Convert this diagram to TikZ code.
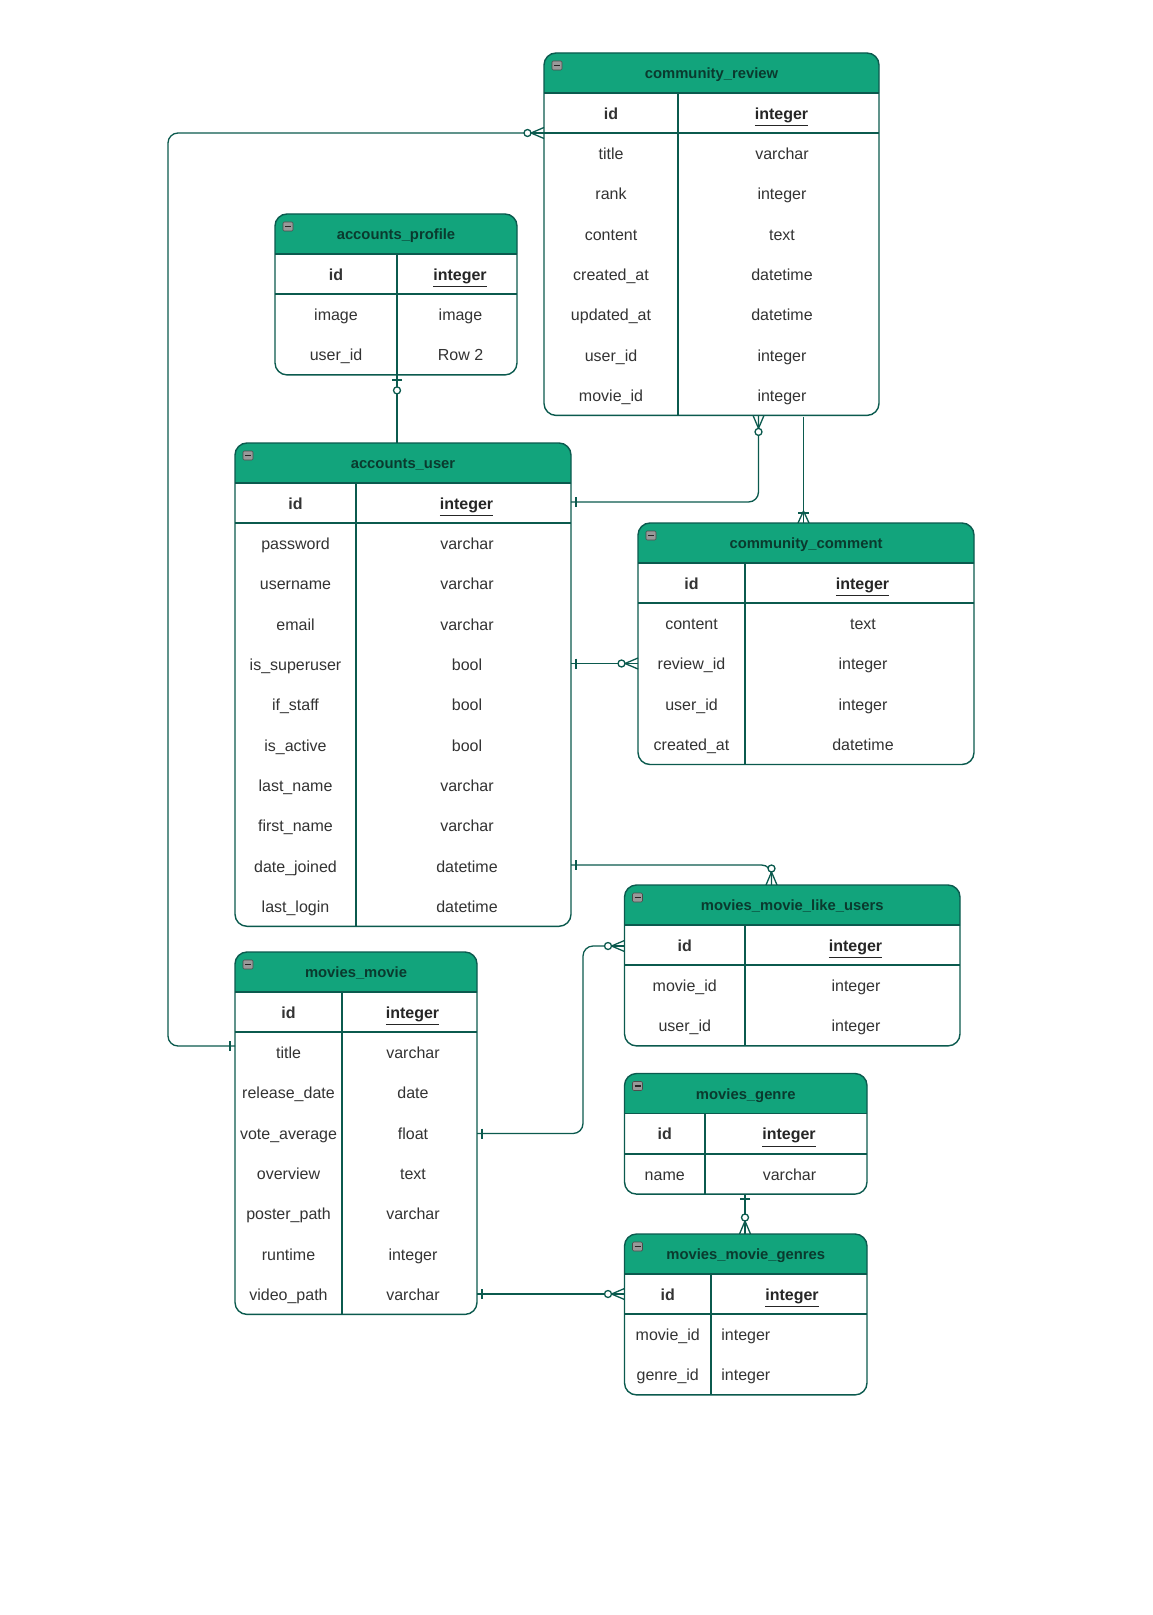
\documentclass[tikz,border=0pt]{standalone}
\usepackage{fontspec}
\setmainfont{Liberation Sans}
\usetikzlibrary{calc}
\definecolor{ln}{HTML}{0B5A4E}
\definecolor{hd}{HTML}{12A47C}
\definecolor{tt}{HTML}{0A3A2E}
\definecolor{tx}{HTML}{333333}
\newif\iftleft
\tikzset{
  tblbox/.style={inner sep=0pt, outer sep=0pt, draw=none},
  txt/.style={font=\fontsize{8}{9.6}\selectfont, text=tx, inner sep=0pt, text height=5.8pt, text depth=1.6pt},
  ttl/.style={font=\fontsize{7.4}{9}\selectfont\bfseries, text=tt, inner sep=0pt, text height=5.4pt, text depth=1.5pt},
  border/.style={draw=ln, line width=0.7pt},
  sep/.style={draw=ln, line width=0.9pt},
  conn/.style={draw=ln, line width=0.65pt, rounded corners=5pt},
  mk/.style={draw=ln, line width=0.65pt},
  erone/.pic={\draw[mk] (5,-5) -- (5,5);},
  erzeroone/.pic={\draw[mk] (5,-5) -- (5,5); \draw[mk, fill=white] (15.5,0) circle (3.5);},
  erzeromany/.pic={\draw[mk] (0,-5.5) -- (13,0) -- (0,5.5); \draw[mk] (0,0) -- (13,0); \draw[mk, fill=white] (16.5,0) circle (3.5);},
  eronemany/.pic={\draw[mk] (0,-5.5) -- (12,0) -- (0,5.5); \draw[mk] (0,0) -- (12,0); \draw[mk] (10,-5.5) -- (10,5.5);}
}
\newcommand\ulint{\underline{integer}}
% #1 name #2 left #3 top #4 right #5 divider #6 rows #7 title #8 rows
\newcommand\ertbl[8]{%
  \pgfmathsetmacro\tw{#4-#2}%
  \pgfmathsetmacro\th{40+#6*40.3}%
  \node[tblbox, minimum width=\tw*0.5pt, minimum height=\th*0.5pt, anchor=north west] (#1) at (#2,#3) {};
  \begin{scope}
    \clip (#2,#3) rectangle (#4,{#3+40});
    \fill[hd, rounded corners=6pt] (#2,#3) rectangle (#4,{#3+\th});
  \end{scope}
  \draw[border, rounded corners=6pt] (#1.north west) rectangle (#1.south east);
  \draw[sep] (#2,{#3+40}) -- (#4,{#3+40});
  \draw[sep] (#2,{#3+80.3}) -- (#4,{#3+80.3});
  \draw[draw=ln, line width=0.6pt] (#5,{#3+40}) -- (#5,{#3+\th});
  \draw[draw=black!70, fill=black!40, line width=0.3pt, rounded corners=0.6pt] ({#2+8},{#3+8}) rectangle ({#2+18},{#3+17});
  \draw[black!85, line width=0.6pt] ({#2+10},{#3+12.5}) -- ({#2+16},{#3+12.5});
  \node[ttl] at ({(#2+#4)/2},{#3+22}) {#7};
  \node[txt, font=\fontsize{8}{9.6}\selectfont\bfseries] at ({(#2+#5)/2},{#3+62}) {id};
  \node[txt, font=\fontsize{8}{9.6}\selectfont\bfseries, text=black!85] at ({(#5+#4)/2+3},{#3+62}) {\ulint};
  \foreach \a/\b [count=\i] in {#8} {
    \node[txt] at ({(#2+#5)/2},{#3+42+(\i+0.5)*40.3}) {\a};
    \iftleft
      \node[txt, anchor=west] at ({#5+10},{#3+42+(\i+0.5)*40.3}) {\b};
    \else
      \node[txt] at ({(#5+#4)/2+3.5},{#3+42+(\i+0.5)*40.3}) {\b};
    \fi
  }
}
\begin{document}
\begin{tikzpicture}[x=0.5pt, y=-0.5pt]
\fill[white] (0,0) rectangle (1152,1615);
\useasboundingbox (0,0) rectangle (1152,1615);

\ertbl{cr}{544}{53}{879}{678}{8}{community\_review}{title/varchar, rank/integer, content/text, created\_at/datetime, updated\_at/datetime, user\_id/integer, movie\_id/integer}
\ertbl{ap}{275}{214}{517}{397}{3}{accounts\_profile}{image/image, user\_id/Row 2}
\ertbl{au}{235}{443}{571}{356}{11}{accounts\_user}{password/varchar, username/varchar, email/varchar, is\_superuser/bool, if\_staff/bool, is\_active/bool, last\_name/varchar, first\_name/varchar, date\_joined/datetime, last\_login/datetime}
\ertbl{cc}{638}{523}{974}{745}{5}{community\_comment}{content/text, review\_id/integer, user\_id/integer, created\_at/datetime}
\ertbl{ml}{624.5}{885}{960}{745}{3}{movies\_movie\_like\_users}{movie\_id/integer, user\_id/integer}
\ertbl{mm}{235}{952}{477}{342}{8}{movies\_movie}{title/varchar, release\_date/date, vote\_average/float, overview/text, poster\_path/varchar, runtime/integer, video\_path/varchar}
\ertbl{mg}{624.5}{1073.5}{867}{705}{2}{movies\_genre}{name/varchar}
\tlefttrue
\ertbl{mmg}{624.5}{1234}{867}{711}{3}{movies\_movie\_genres}{movie\_id/integer, genre\_id/integer}
\tleftfalse

% connectors
\coordinate (c1) at ($(cr.north west)+(0,80)$);
\coordinate (c1e) at ($(mm.north west)+(0,94)$);
\coordinate (c2) at ($(ap.south west)+(122,0)$);
\coordinate (c3) at ($(cr.south west)+(214.5,0)$);
\coordinate (c3e) at ($(au.north east)+(0,59)$);
\coordinate (c4) at ($(cr.south west)+(259.5,0)$);
\coordinate (c5) at ($(au.north east)+(0,220.5)$);
\coordinate (c6) at ($(au.north east)+(0,422)$);
\coordinate (c6e) at ($(ml.north west)+(147,0)$);
\coordinate (c7) at ($(mm.north east)+(0,181.5)$);
\coordinate (c7e) at ($(ml.north west)+(0,61)$);
\coordinate (c8) at ($(mm.north east)+(0,342)$);
\coordinate (c9) at ($(mg.south west)+(120.5,0)$);

\draw[conn] (c1) -| ($(c1e)+(-67,0)$) -- (c1e);
\draw[conn] (c2) -- (c2 |- au.north);
\draw[conn] (c3) |- (c3e);
\draw[conn] ($(c4)+(0,1.5)$) -- (c4 |- cc.north);
\draw[conn] (c5) -- (c5 -| cc.west);
\draw[conn] (c6) -| (c6e);
\draw[conn] (c7) -- ++(106,0) |- (c7e);
\draw[conn] (c8) -- (c8 -| mmg.west);
\draw[conn] (c9) -- (c9 |- mmg.north);

\pic[rotate=180] at (c1) {erzeromany};
\pic[rotate=180] at (c1e) {erone};
\pic[rotate=-90] at (c2) {erzeroone};
\pic[rotate=-90] at (c3) {erzeromany};
\pic at (c3e) {erone};
\pic[rotate=90] at (c4 |- cc.north) {eronemany};
\pic at (c5) {erone};
\pic[rotate=180] at (c5 -| cc.west) {erzeromany};
\pic at (c6) {erone};
\pic[rotate=90] at (c6e) {erzeromany};
\pic at (c7) {erone};
\pic[rotate=180] at (c7e) {erzeromany};
\pic at (c8) {erone};
\pic[rotate=180] at (c8 -| mmg.west) {erzeromany};
\pic[rotate=-90] at (c9) {erone};
\pic[rotate=90] at (c9 |- mmg.north) {erzeromany};
\end{tikzpicture}
\end{document}
